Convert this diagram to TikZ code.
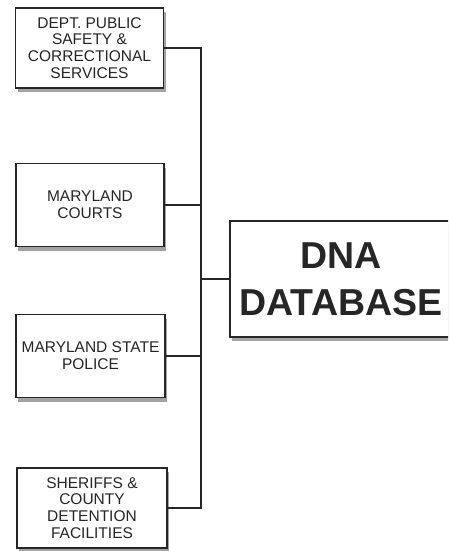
\documentclass[tikz,border=0pt]{standalone}
\usepackage{fontspec}
\setmainfont{Liberation Sans}
\usetikzlibrary{shadows}

\tikzset{
  agency/.style={draw=black!85, line width=1.3pt, fill=white, align=center,
    text=black!85, font=\fontsize{15.5}{16.7}\selectfont,
    drop shadow={shadow xshift=2pt, shadow yshift=-4pt, fill=black!45, opacity=0.8}},
  database/.style={agency, font=\fontsize{37.5}{47}\bfseries\selectfont},
  link/.style={draw=black!85, line width=1.4pt}
}

\begin{document}
\begin{tikzpicture}[x=1pt, y=-1pt]
  \clip (0,0) rectangle (448,551);
  \fill[white] (0,0) rectangle (448,551);

  % agencies on the left
  \node[agency, minimum width=148pt, minimum height=80pt] (dpscs) at (89.5,48)
    {DEPT. PUBLIC\\SAFETY \&\\CORRECTIONAL\\SERVICES};
  \node[agency, minimum width=148pt, minimum height=83pt] (courts) at (90,205)
    {MARYLAND\\COURTS};
  \node[agency, minimum width=149pt, minimum height=83pt] (msp) at (90.5,356)
    {MARYLAND STATE\\POLICE};
  \node[agency, minimum width=150pt, minimum height=80pt] (sheriffs) at (92,508)
    {SHERIFFS \&\\COUNTY\\DETENTION\\FACILITIES};

  % the database
  \node[database, minimum width=222pt, minimum height=116pt] (dna) at (341,279)
    {DNA\\DATABASE};

  % connectors
  \coordinate (hub) at (201,279);
  \draw[link] (dpscs.east) -| (hub);
  \draw[link] (courts.east) -| (hub);
  \draw[link] (msp.east) -| (hub);
  \draw[link] (sheriffs.east) -| (hub);
  \draw[link] (hub) -- (dna.west);
\end{tikzpicture}
\end{document}
